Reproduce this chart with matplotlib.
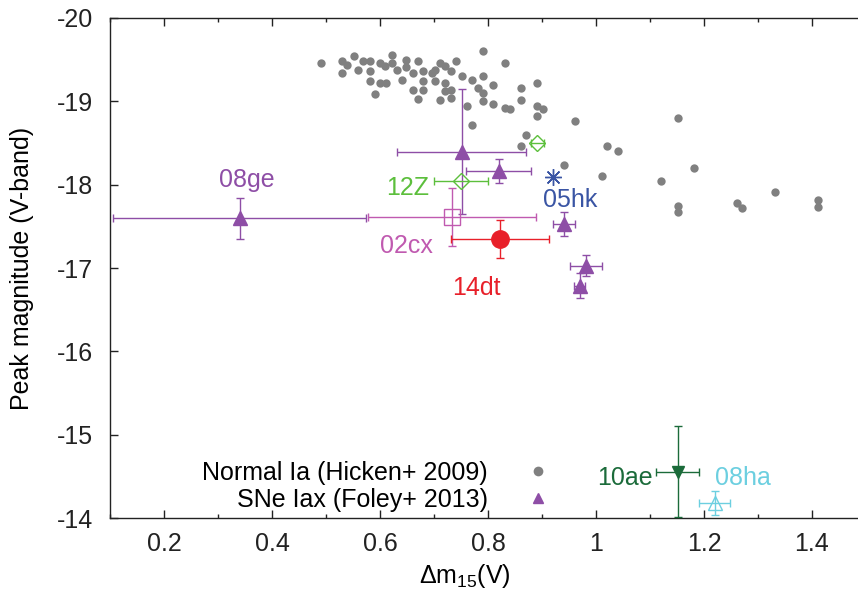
import numpy as np
import matplotlib
matplotlib.use("Agg")
import matplotlib.pyplot as plt
from matplotlib.lines import Line2D
from matplotlib.ticker import MultipleLocator

plt.rcParams['font.family'] = ['Liberation Sans', 'DejaVu Sans']
plt.rcParams['font.size'] = 18
plt.rcParams['axes.unicode_minus'] = False
plt.rcParams['mathtext.fontset'] = 'custom'
plt.rcParams['mathtext.rm'] = 'Liberation Sans'
plt.rcParams['mathtext.it'] = 'Liberation Sans:italic'

# normal Ia sample (Hicken+ 2009): dm15(V), peak M_V
hicken_dm15 = [0.491, 0.530, 0.530, 0.551, 0.538, 0.560, 0.569, 0.581, 0.581, 0.581,
               0.591, 0.600, 0.600, 0.609, 0.611, 0.622, 0.622, 0.631, 0.640, 0.649,
               0.649, 0.662, 0.662, 0.671, 0.671, 0.680, 0.680, 0.680, 0.696, 0.702,
               0.702, 0.711, 0.711, 0.720, 0.720, 0.720, 0.731, 0.731, 0.731, 0.741,
               0.751, 0.761, 0.771, 0.771, 0.781, 0.790, 0.790, 0.790, 0.790, 0.810,
               0.810, 0.831, 0.831, 0.841, 0.861, 0.861, 0.861, 0.870, 0.891, 0.891,
               0.891, 0.901, 0.961, 0.941, 1.021, 1.041, 1.011, 1.151, 1.181, 1.121,
               1.151, 1.151, 1.261, 1.271, 1.331, 1.411, 1.411]
hicken_mag = [-19.46, -19.48, -19.34, -19.54, -19.44, -19.38, -19.48, -19.48, -19.36, -19.25,
              -19.09, -19.46, -19.22, -19.42, -19.22, -19.56, -19.46, -19.38, -19.26, -19.50,
              -19.41, -19.34, -19.14, -19.48, -19.03, -19.37, -19.24, -19.14, -19.34, -19.38,
              -19.24, -19.46, -19.02, -19.42, -19.22, -19.12, -19.36, -19.14, -19.04, -19.48,
              -19.30, -18.94, -19.26, -18.72, -19.16, -19.60, -19.30, -19.10, -19.01, -19.20,
              -18.97, -19.46, -18.92, -18.91, -19.16, -19.02, -18.46, -18.60, -19.22, -18.94,
              -18.83, -18.91, -18.77, -18.24, -18.47, -18.40, -18.10, -18.80, -18.20, -18.04,
              -17.75, -17.67, -17.78, -17.72, -17.91, -17.82, -17.73]

# SNe Iax (Foley+ 2013)
iax_dm15 = [0.340, 0.751, 0.820, 0.941, 0.981, 0.970]
iax_mag = [-17.595, -18.394, -18.16, -17.53, -17.03, -16.79]
iax_dm15_err = [0.235, 0.12, 0.06, 0.02, 0.03, 0.01]
iax_mag_err = [0.245, 0.75, 0.144, 0.146, 0.13, 0.146]

# individual objects
sn02cx = dict(x=0.733, y=-17.616, xerr=0.155, yerr=0.348)
sn12z = dict(x=[0.750, 0.891], y=[-18.044, -18.496], xerr=[0.05, 0.012])
sn05hk = dict(x=0.921, y=-18.096)
sn14dt = dict(x=0.822, y=-17.35, xerr=0.091, yerr=0.226)
sn10ae = dict(x=1.151, y=-14.556, xerr=0.04, yerr=0.548)
sn08ha = dict(x=1.22, y=-14.184, xerr=0.029, yerr=0.144)

# label text, position, colour
labels = ['08ge', '12Z', '02cx', '05hk', '14dt', '10ae', '08ha']
label_x = [0.353, 0.651, 0.649, 0.952, 0.778, 1.054, 1.273]
label_y = [-17.976, -17.876, -17.18, -17.732, -16.676, -14.396, -14.396]

c_gray = '#808080'
c_iax = '#8e4ea6'
c_02cx = '#c05ab0'
c_12z = '#5cbf3c'
c_05hk = '#3a55a4'
c_14dt = '#e8202a'
c_10ae = '#1b6b3a'
c_08ha = '#6ccfe0'
label_colors = [c_iax, c_12z, c_02cx, c_05hk, c_14dt, c_10ae, c_08ha]

fig = plt.figure(figsize=(8.58, 5.94), dpi=100)
ax = fig.add_axes([0.1282, 0.1279, 0.8811, 0.8418])

ebkw = dict(elinewidth=1.0, capsize=3, capthick=1.0, ls='none')

ax.plot(hicken_dm15, hicken_mag, 'o', color=c_gray, ms=6, mec='none', zorder=2)

ax.errorbar(iax_dm15, iax_mag, xerr=iax_dm15_err, yerr=iax_mag_err, fmt='^',
            color=c_iax, ms=10, zorder=3, **ebkw)

ax.errorbar(sn02cx['x'], sn02cx['y'], xerr=sn02cx['xerr'], yerr=sn02cx['yerr'], fmt='s',
            color=c_02cx, mfc='none', ms=11, mew=1.0, zorder=3, **ebkw)
ax.errorbar(sn12z['x'], sn12z['y'], xerr=sn12z['xerr'], fmt='D',
            color=c_12z, mfc='none', ms=8.5, mew=1.0, zorder=3, **ebkw)
ax.plot(sn05hk['x'], sn05hk['y'], marker=(8, 2, 0), color=c_05hk, ms=12, mew=1.0,
        ls='none', zorder=3)
ax.errorbar(sn14dt['x'], sn14dt['y'], xerr=sn14dt['xerr'], yerr=sn14dt['yerr'], fmt='o',
            color=c_14dt, ms=12.5, zorder=4, **ebkw)
ax.errorbar(sn10ae['x'], sn10ae['y'], xerr=sn10ae['xerr'], yerr=sn10ae['yerr'], fmt='v',
            color=c_10ae, ms=9, zorder=3, **ebkw)
ax.errorbar(sn08ha['x'], sn08ha['y'], xerr=sn08ha['xerr'], yerr=sn08ha['yerr'], fmt='^',
            color=c_08ha, mfc='none', ms=10.5, mew=1.0, zorder=3, **ebkw)

for t, x, y, c in zip(labels, label_x, label_y, label_colors):
    ax.text(x, y, t, color=c, ha='center', va='baseline', fontsize=18)

ax.set_xlim(0.1, 1.5)
ax.set_ylim(-14, -20)
ax.set_xticks([0.2, 0.4, 0.6, 0.8, 1.0, 1.2, 1.4])
ax.set_xticklabels(['0.2', '0.4', '0.6', '0.8', '1', '1.2', '1.4'])
ax.xaxis.set_minor_locator(MultipleLocator(0.1))
ax.set_yticks(np.arange(-20, -13, 1))
ax.tick_params(which='both', direction='in', top=True, right=True, width=1.0, colors='#222222')
ax.tick_params(which='major', length=6)
ax.tick_params(which='minor', length=3)
ax.tick_params(axis='x', pad=10)
ax.tick_params(axis='y', pad=12)
for s in ax.spines.values():
    s.set_color('#222222')
    s.set_linewidth(1.0)

ax.set_xlabel(r'$\Delta$m$_{15}$(V)')
ax.xaxis.set_label_coords(0.469, -0.088)
ax.set_ylabel('Peak magnitude (V-band)')
ax.yaxis.set_label_coords(-0.1, 0.5)

handles = [Line2D([], [], marker='o', color=c_gray, mec='none', ls='none', ms=7),
           Line2D([], [], marker='^', color=c_iax, ls='none', ms=7.5)]
ax.legend(handles, ['Normal Ia (Hicken+ 2009)', 'SNe Iax (Foley+ 2013)'],
          loc='lower right', bbox_to_anchor=(0.599, 0.012), markerfirst=False,
          frameon=False, borderpad=0, borderaxespad=0, handletextpad=1.0,
          labelspacing=0.12, fontsize=18)

fig.savefig('out.png', dpi=100)
